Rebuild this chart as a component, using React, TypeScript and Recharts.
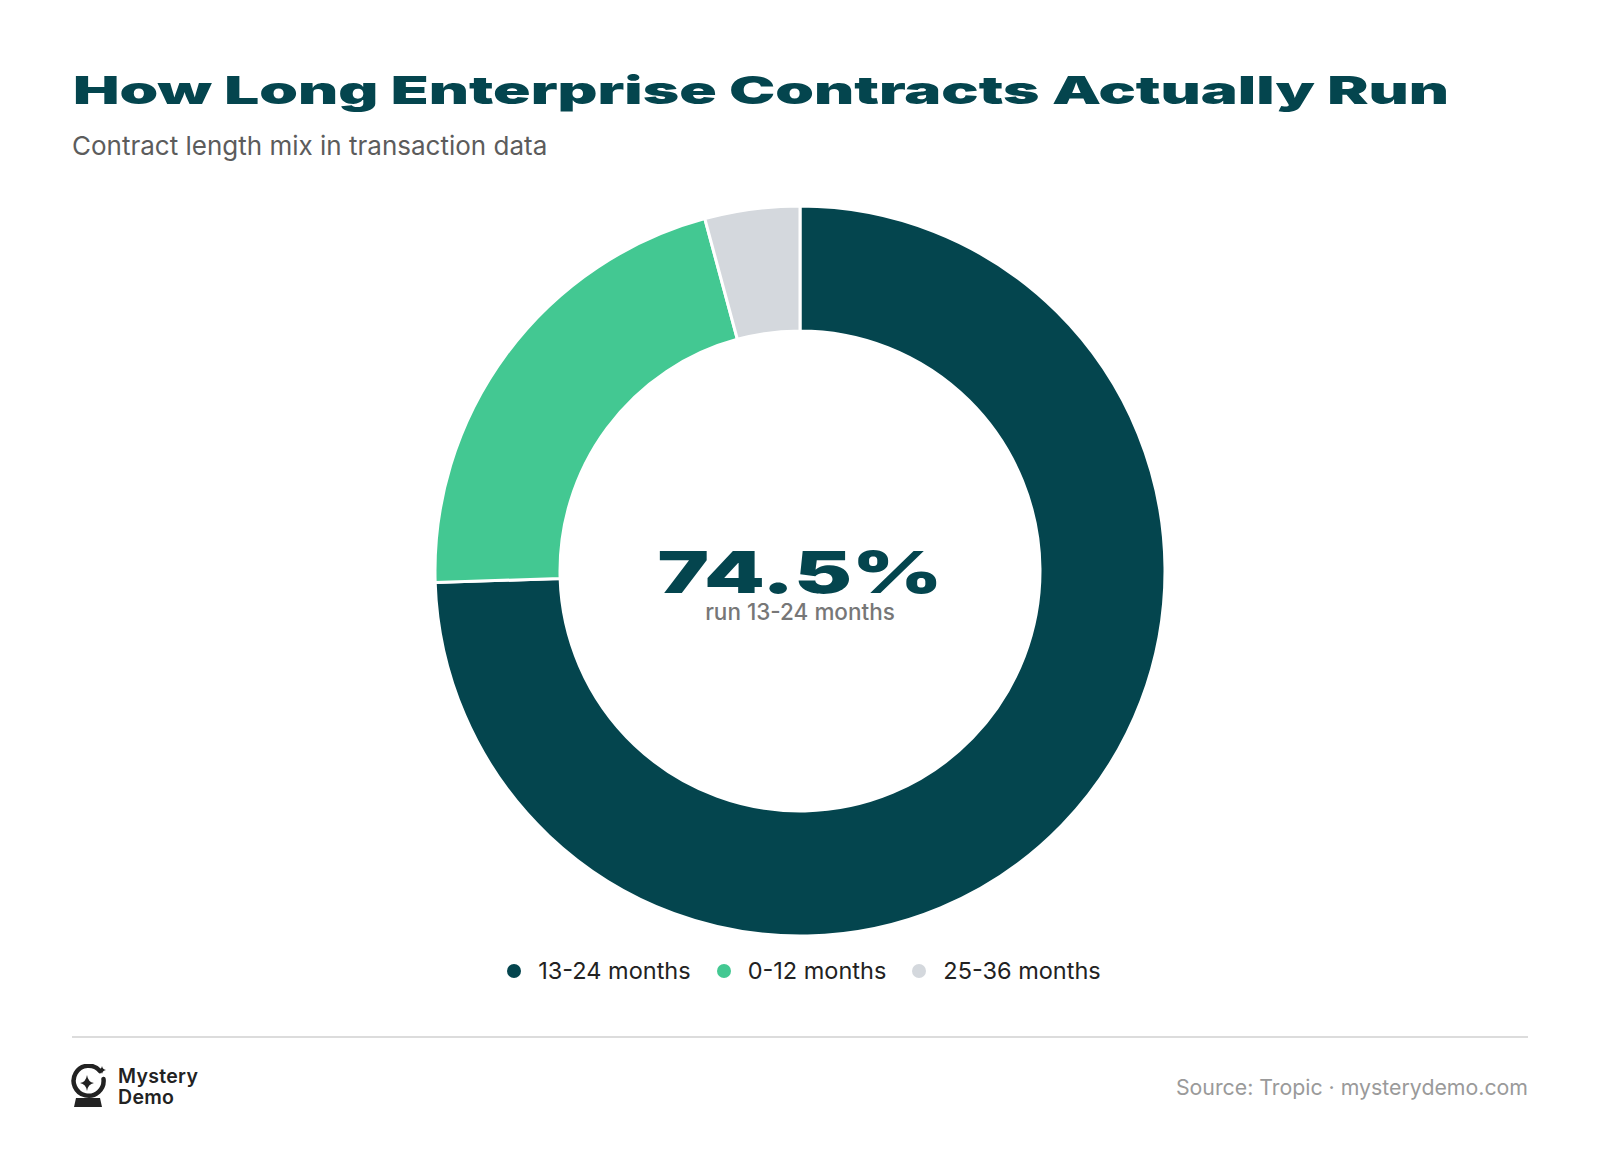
import React from 'react';
import { PieChart, Pie, Cell, Legend } from 'recharts';

const W = 1600;
const H = 1162;
const CX = 800;
const CY = 571;

const TEAL = '#04454e';
const FONT = 'Inter, "Noto Sans", sans-serif';

// contract length buckets and their share of transactions (%)
const categories = ['13-24 months', '0-12 months', '25-36 months'];
const shares = [74.5, 21.3, 4.2];
const colors = [TEAL, '#43c892', '#d4d8dd'];

const headline = '74.5%';
const headlineSub = 'run 13-24 months';

const data = categories.map((name, i) => ({ name, value: shares[i] }));

const renderLegend = (props: any) => {
  // keep the legend in data order, not alphabetical
  const payload = [...(props.payload || [])].sort(
    (a: any, b: any) => categories.indexOf(a.value) - categories.indexOf(b.value)
  );
  return (
    <div style={{ display: 'flex', justifyContent: 'center', alignItems: 'center', gap: 26 }}>
      {payload.map((p: any) => (
        <div key={p.value} style={{ display: 'flex', alignItems: 'center' }}>
          <span
            style={{
              display: 'inline-block',
              width: 14,
              height: 14,
              borderRadius: 7,
              background: p.color,
              marginRight: 17,
            }}
          />
          <span style={{ fontFamily: FONT, fontSize: 23.5, color: '#222', lineHeight: '28px' }}>{p.value}</span>
        </div>
      ))}
    </div>
  );
};

const Logo = () => (
  <svg width={40} height={44} style={{ position: 'absolute', left: 70, top: 1064 }}>
    {/* globe ring, open at top right */}
    <path d="M 30 7 A 15 15 0 1 0 33.5 15" fill="none" stroke="#222" strokeWidth={4.5} strokeLinecap="round" />
    {/* big sparkle */}
    <path d="M 17 11 Q 18 18 24 19 Q 18 20 17 27 Q 16 20 10 19 Q 16 18 17 11 Z" fill="#222" />
    {/* small sparkle */}
    <path d="M 32 2 Q 32.6 5.4 36 6 Q 32.6 6.6 32 10 Q 31.4 6.6 28 6 Q 31.4 5.4 32 2 Z" fill="#222" />
    {/* stand */}
    <path d="M 6 34 L 30 34 L 32 43 L 4 43 Z" fill="#222" />
  </svg>
);

export default function App() {
  return (
    <div style={{ position: 'absolute', left: 0, top: 0, width: W, height: H, background: '#fff', overflow: 'hidden' }}>
      <svg width={W} height={130} style={{ position: 'absolute', left: 0, top: 0 }}>
        <text
          x={73}
          y={104}
          textLength={1376}
          lengthAdjust="spacingAndGlyphs"
          fill={TEAL}
          style={{ fontFamily: FONT, fontWeight: 900, fontSize: 38 }}
        >
          How Long Enterprise Contracts Actually Run
        </text>
      </svg>
      <div
        style={{
          position: 'absolute',
          left: 72,
          top: 130,
          fontFamily: FONT,
          fontSize: 26,
          lineHeight: '32px',
          color: '#5c5c5c',
        }}
      >
        Contract length mix in transaction data
      </div>

      <div style={{ position: 'absolute', left: 0, top: 0 }}>
        <PieChart width={W} height={1030} margin={{ top: 0, right: 0, bottom: 0, left: 0 }}>
          <Pie
            data={data}
            dataKey="value"
            nameKey="name"
            cx={CX}
            cy={CY}
            innerRadius={240}
            outerRadius={365}
            startAngle={90}
            endAngle={-270}
            stroke="#ffffff"
            strokeWidth={3}
            isAnimationActive={false}
            legendType="circle"
          >
            {data.map((d, i) => (
              <Cell key={d.name} fill={colors[i]} />
            ))}
          </Pie>
          <Legend
            content={renderLegend}
            wrapperStyle={{ position: 'absolute', top: 957, left: 4, width: W }}
          />
        </PieChart>
      </div>

      {/* headline inside the donut hole */}
      <svg width={W} height={H} style={{ position: 'absolute', left: 0, top: 0, pointerEvents: 'none' }}>
        <text
          x={CX}
          y={CY + 22}
          textAnchor="middle"
          textLength={285}
          lengthAdjust="spacingAndGlyphs"
          fill={TEAL}
          style={{ fontFamily: FONT, fontWeight: 900, fontSize: 58 }}
        >
          {headline}
        </text>
        <text
          x={CX}
          y={CY + 49}
          textAnchor="middle"
          fill="#777777"
          style={{ fontFamily: FONT, fontWeight: 500, fontSize: 22.5 }}
        >
          {headlineSub}
        </text>
      </svg>

      <div style={{ position: 'absolute', left: 72, top: 1036, width: 1456, height: 2, background: '#dcdcdc' }} />

      <Logo />
      <div
        style={{
          position: 'absolute',
          left: 118,
          top: 1066,
          fontFamily: FONT,
          fontWeight: 600,
          fontSize: 19.5,
          lineHeight: '21px',
          color: '#222',
          letterSpacing: 0.3,
        }}
      >
        Mystery
        <br />
        Demo
      </div>
      <div
        style={{
          position: 'absolute',
          right: 72,
          top: 1074,
          fontFamily: FONT,
          fontSize: 21.3,
          lineHeight: '26px',
          color: '#9a9a9a',
        }}
      >
        Source: Tropic · mysterydemo.com
      </div>
    </div>
  );
}
